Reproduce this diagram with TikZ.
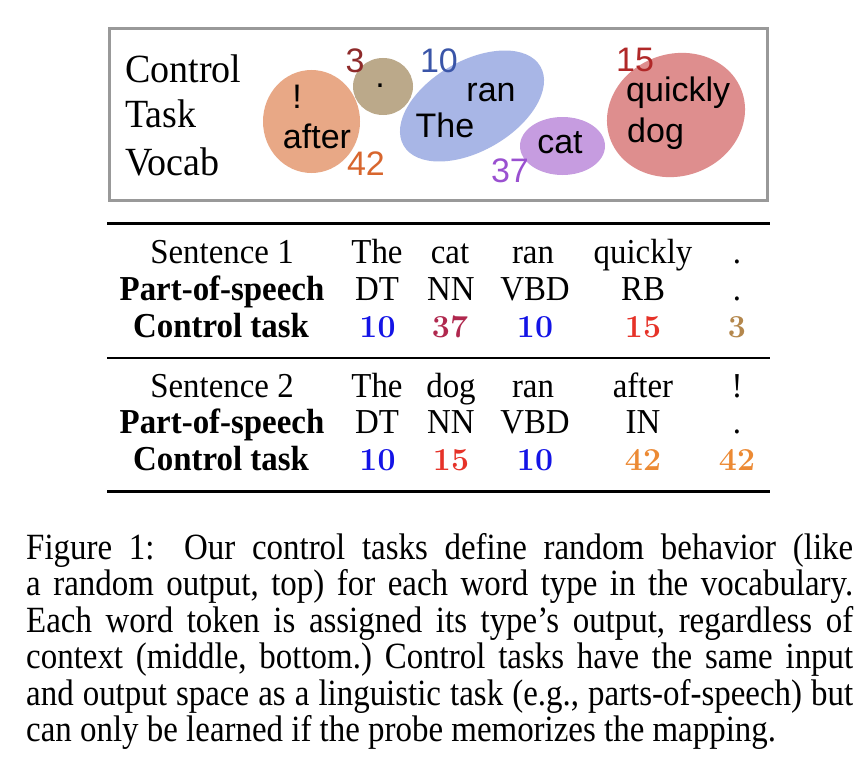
\documentclass[tikz,border=0pt]{standalone}
\usepackage{fontspec}
\setmainfont{Liberation Serif}
\newfontfamily\sansf{Liberation Sans}
\newfontfamily\lmf{Latin Modern Roman}
\newfontfamily\capfont[FakeStretch=0.89]{Liberation Serif}
\newfontfamily\tabfont[FakeStretch=0.94]{Liberation Serif}
\newfontfamily\sidefont[FakeStretch=0.95]{Liberation Serif}
\usetikzlibrary{shapes.geometric}
\definecolor{boxgray}{HTML}{999999}
\definecolor{eOrange}{HTML}{E8A886}
\definecolor{eTan}{HTML}{BBA98A}
\definecolor{eBlue}{HTML}{A8B6E6}
\definecolor{ePurple}{HTML}{C69CE0}
\definecolor{eRed}{HTML}{DE8E8E}
\definecolor{lThree}{HTML}{8E2A2A}
\definecolor{lTen}{HTML}{3A55A8}
\definecolor{lFortyTwo}{HTML}{D8662E}
\definecolor{lThirtySeven}{HTML}{9A50D0}
\definecolor{lFifteen}{HTML}{B02828}
\definecolor{tBlue}{HTML}{1414E6}
\definecolor{tCrimson}{HTML}{B0284E}
\definecolor{tRed}{HTML}{E63228}
\definecolor{tTan}{HTML}{B4874C}
\definecolor{tOrange}{HTML}{EC8A34}
\begin{document}
\begin{tikzpicture}[x=1pt,y=-1pt,
  blob/.style={ellipse, inner sep=0pt, draw=none},
  sword/.style={anchor=base, inner sep=0pt, font=\sansf\fontsize{34}{40}\selectfont},
  swordw/.style={anchor=base west, inner sep=0pt, font=\sansf\fontsize{34}{40}\selectfont},
  slbl/.style={anchor=base, inner sep=0pt, font=\sansf\fontsize{34}{40}\selectfont},
  side/.style={anchor=base west, inner sep=0pt, font=\sidefont\fontsize{40}{44}\selectfont},
  cell/.style={anchor=base, inner sep=0pt, font=\tabfont\fontsize{35}{40}\selectfont},
  bcell/.style={anchor=base, inner sep=0pt, font=\tabfont\bfseries\fontsize{35}{40}\selectfont},
  num/.style={anchor=base, inner sep=0pt, font=\lmf\bfseries\fontsize{32}{38}\selectfont},
  thickrule/.style={line width=3pt},
  thinrule/.style={line width=1.8pt}
]
\useasboundingbox[fill=white] (0,0) rectangle (868,768);

% ---- vocabulary box ----
\node[draw=boxgray, line width=3pt, fill=white, inner sep=0pt,
      minimum width=658pt, minimum height=171pt] (box) at (438,114.5) {};

\node[side] (tControl) at (125,82) {Control};
\node[side] (tTask) at (125,128) {Task};
\node[side] (tVocab) at (125,175) {Vocab};

\node[blob, fill=eOrange, minimum width=97pt, minimum height=103pt] (eOr) at (311.5,121.5) {};
\node[blob, fill=eTan, minimum width=60pt, minimum height=57pt] (eTa) at (383,86.5) {};
\node[blob, fill=eBlue, minimum width=158pt, minimum height=90pt, rotate=30] (eBl) at (472,106) {};
\node[blob, fill=ePurple, minimum width=85pt, minimum height=58pt] (ePu) at (562.5,146) {};
\node[blob, fill=eRed, minimum width=140pt, minimum height=122pt, rotate=20] (eRe) at (676,115) {};

\node[sword] (wExcl) at (297,108) {!};
\node[sword] (wAfter) at (317,148) {after};
\node[sword] (wDot) at (380,88) {.};
\node[sword] (wRan) at (491,102) {ran};
\node[sword] (wThe) at (445,137) {The};
\node[sword] (wCat) at (560,153) {cat};
\node[swordw] (wQuickly) at (626,102) {quickly};
\node[swordw] (wDog) at (627,142) {dog};

\node[slbl, text=lThree] (nThree) at (355,73) {3};
\node[slbl, text=lTen] (nTen) at (439,73) {10};
\node[slbl, text=lFortyTwo] (nFortyTwo) at (366,175) {42};
\node[slbl, text=lThirtySeven] (nThirtySeven) at (510,182) {37};
\node[slbl, text=lFifteen] (nFifteen) at (635,72) {15};

% ---- table ----
\coordinate (ruleAl) at (107,223); \coordinate (ruleAr) at (770,223);
\coordinate (ruleBl) at (107,358); \coordinate (ruleBr) at (770,358);
\coordinate (ruleCl) at (107,491); \coordinate (ruleCr) at (770,491);
\draw[thickrule] (ruleAl) -- (ruleAr);
\draw[thinrule] (ruleBl) -- (ruleBr);
\draw[thickrule] (ruleCl) -- (ruleCr);

% sentence 1
\node[cell] (s1) at (222,263) {Sentence 1};
\node[cell] (s1a) at (377,263) {The};
\node[cell] (s1b) at (450,263) {cat};
\node[cell] (s1c) at (533,263) {ran};
\node[cell] (s1d) at (643,263) {quickly};
\node[cell] (s1e) at (737,263) {.};
\node[bcell] (p1) at (222,300) {Part-of-speech};
\node[cell] (p1a) at (377,300) {DT};
\node[cell] (p1b) at (451,300) {NN};
\node[cell] (p1c) at (535,300) {VBD};
\node[cell] (p1d) at (643,300) {RB};
\node[cell] (p1e) at (737,300) {.};
\node[bcell] (c1) at (221,337) {Control task};
\node[num, text=tBlue] (c1a) at (377.5,337) {10};
\node[num, text=tCrimson] (c1b) at (450,337) {37};
\node[num, text=tBlue] (c1c) at (535,337) {10};
\node[num, text=tRed] (c1d) at (643,337) {15};
\node[num, text=tTan] (c1e) at (737,337) {3};

% sentence 2
\node[cell] (s2) at (222,397) {Sentence 2};
\node[cell] (s2a) at (377,397) {The};
\node[cell] (s2b) at (451,397) {dog};
\node[cell] (s2c) at (533,397) {ran};
\node[cell] (s2d) at (643,397) {after};
\node[cell] (s2e) at (737,397) {!};
\node[bcell] (p2) at (222,433) {Part-of-speech};
\node[cell] (p2a) at (377,433) {DT};
\node[cell] (p2b) at (451,433) {NN};
\node[cell] (p2c) at (535,433) {VBD};
\node[cell] (p2d) at (643,433) {IN};
\node[cell] (p2e) at (737,433) {.};
\node[bcell] (c2) at (221,470) {Control task};
\node[num, text=tBlue] (c2a) at (377.5,470) {10};
\node[num, text=tRed] (c2b) at (451,470) {15};
\node[num, text=tBlue] (c2c) at (535,470) {10};
\node[num, text=tOrange] (c2d) at (643,470) {42};
\node[num, text=tOrange] (c2e) at (737,470) {42};

% ---- caption ----
\node[anchor=base west, inner sep=0pt] (caption) at (26,559)
  {\parbox[t]{827pt}{\capfont\fontsize{37}{36.5}\selectfont\frenchspacing\hyphenpenalty=10000
  Figure 1:\hspace{0.35em} Our control tasks define random behavior (like\linebreak
  a random output, top) for each word type in the vocabulary.\linebreak
  Each word token is assigned its type’s output, regardless of\linebreak
  context (middle, bottom.) Control tasks have the same input\linebreak
  and output space as a linguistic task (e.g., parts-of-speech) but\linebreak
  can only be learned if the probe memorizes the mapping.}};
\end{tikzpicture}
\end{document}
